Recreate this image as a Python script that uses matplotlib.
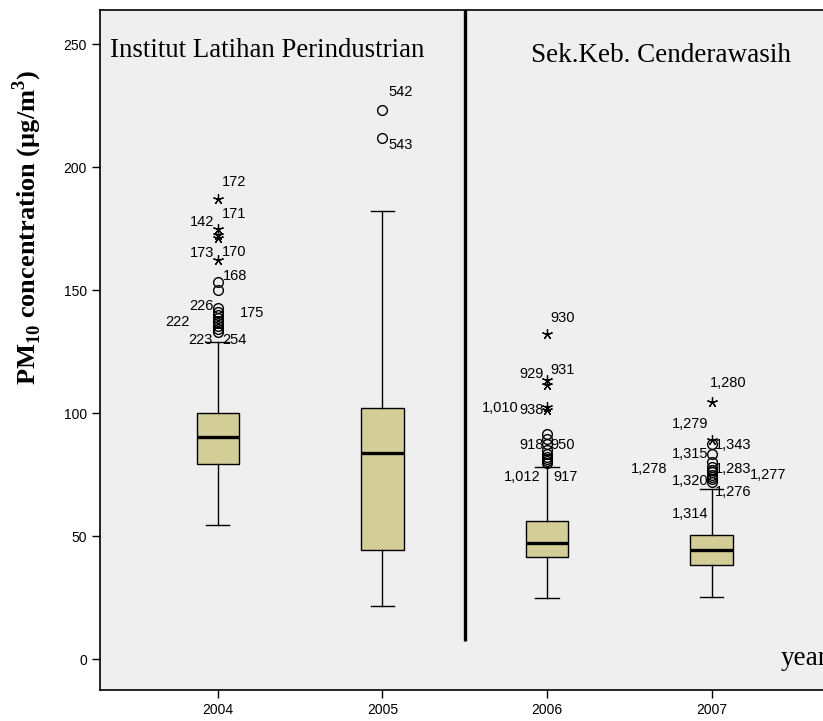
import matplotlib.pyplot as plt

plt.rcParams['mathtext.fontset'] = 'custom'
plt.rcParams['mathtext.rm'] = 'Liberation Serif'
plt.rcParams['mathtext.bf'] = 'Liberation Serif:bold'

# PM10 box summaries per year
years = ['2004', '2005', '2006', '2007']
whis_low = [54.5, 21.5, 24.8, 25.2]
q1 = [79.3, 44.3, 41.5, 38.2]
median = [90.2, 83.7, 47.2, 44.3]
q3 = [100.0, 102.0, 56.1, 50.4]
whis_high = [129.0, 182.0, 78.2, 69.1]

# outliers (circles) and extremes (stars) per year
outliers = [
    [153.4, 150.0, 142.5, 141.0, 139.8, 138.6, 137.5, 136.4, 135.2, 134.0, 133.0],
    [223.0, 212.0],
    [91.5, 89.5, 87.5, 85.0, 83.5, 82.3, 81.3, 80.4, 79.6],
    [87.4, 83.2, 80.0, 78.2, 77.0, 76.0, 75.0, 74.0, 73.0, 72.0],
]
extremes = [
    [187.2, 175.0, 172.3, 171.2, 162.2],
    [],
    [132.0, 113.4, 111.4, 102.6, 101.2],
    [104.6, 89.0],
]

# case numbers shown next to outlying points: (year index, value, label)
case_labels = [
    (0, 187.2, '172'), (0, 175.0, '171'), (0, 172.3, '142'),
    (0, 162.2, '173'), (0, 162.2, '170'), (0, 153.4, '168'),
    (0, 142.5, '226'), (0, 138.6, '175'), (0, 135.2, '222'),
    (0, 133.0, '223'), (0, 133.0, '254'),
    (1, 223.0, '542'), (1, 212.0, '543'),
    (2, 132.0, '930'), (2, 113.4, '929'), (2, 113.4, '931'),
    (2, 101.2, '1,010'), (2, 101.2, '938'), (2, 87.5, '918'),
    (2, 87.5, '950'), (2, 79.6, '1,012'), (2, 79.6, '917'),
    (3, 104.6, '1,280'), (3, 89.0, '1,279'), (3, 87.4, '1,343'),
    (3, 83.2, '1,315'), (3, 76.0, '1,278'), (3, 74.0, '1,320'),
    (3, 78.2, '1,283'), (3, 76.0, '1,277'), (3, 72.0, '1,276'),
    (3, 72.0, '1,314'),
]
# label placement in pixels relative to the point: (dx, dy, ha)
label_offsets = [
    (4, 17, 'left'), (4, 15, 'left'), (-4, 13, 'right'),
    (-4, 7, 'right'), (4, 8, 'left'), (5, 6, 'left'),
    (-4, 2, 'right'), (22, 5, 'left'), (-28, 4, 'right'),
    (-5, -8, 'right'), (4, -8, 'left'),
    (6, 18, 'left'), (6, -7, 'left'),
    (3, 16, 'left'), (-3, 6, 'right'), (3, 10, 'left'),
    (-28, 2, 'right'), (-3, 0, 'right'), (-3, -1, 'right'),
    (3, -1, 'left'), (-7, -14, 'right'), (6, -14, 'left'),
    (-2, 19, 'left'), (-3, 16, 'right'), (3, -1, 'left'),
    (-3, 0, 'right'), (-44, 3, 'right'), (-3, -4, 'right'),
    (3, -2, 'left'), (38, -3, 'left'), (3, -10, 'left'),
    (-3, -32, 'right'),
]

fig = plt.figure(figsize=(8.23, 7.21), dpi=100)
ax = fig.add_axes([0.1215, 0.043, 0.893, 0.943])
ax.set_facecolor('#efefef')

stats = []
for i in range(len(years)):
    stats.append({'whislo': whis_low[i], 'q1': q1[i], 'med': median[i],
                  'q3': q3[i], 'whishi': whis_high[i], 'fliers': []})
ax.bxp(stats, positions=range(len(years)), widths=0.26, capwidths=0.14,
       showfliers=False, patch_artist=True,
       boxprops=dict(facecolor='#d3ce97', edgecolor='black', linewidth=1),
       medianprops=dict(color='black', linewidth=2.4),
       whiskerprops=dict(color='black', linewidth=1),
       capprops=dict(color='black', linewidth=1))

for i in range(len(years)):
    ax.plot([i] * len(outliers[i]), outliers[i], 'o', ms=7, mfc='none',
            mec='black', mew=1)
    ax.plot([i] * len(extremes[i]), extremes[i], marker=(5, 2, 0), ls='none',
            ms=7.5, color='black', mew=0.9)

for (i, v, txt), (dx, dy, ha) in zip(case_labels, label_offsets):
    ax.annotate(txt, (i, v), xytext=(dx, dy), textcoords='offset pixels',
                ha=ha, va='center', fontsize=10.5, family='Liberation Sans')

# separator between the two monitoring stations
ax.vlines(1.5, 7.5, 270, color='black', linewidth=2.4)

ax.text(-0.657, 247.5, 'Institut Latihan Perindustrian', family='Liberation Serif',
        fontsize=19.3, va='center', ha='left')
ax.text(1.903, 245.5, 'Sek.Keb. Cenderawasih', family='Liberation Serif',
        fontsize=19.5, va='center', ha='left')
ax.text(3.42, 0.4, 'year', family='Liberation Serif', fontsize=19.5,
        va='center', ha='left')

ax.set_xlim(-0.717, 3.75)
ax.set_ylim(-12.6, 263.8)
ax.set_xticks(range(len(years)))
ax.set_xticklabels(years, family='Liberation Sans', fontsize=10)
ax.set_yticks([0, 50, 100, 150, 200, 250])
ax.set_yticklabels(['0', '50', '100', '150', '200', '250'],
                   family='Liberation Sans', fontsize=10)
ax.tick_params(axis='both', direction='out', length=6, width=1)
ax.spines['right'].set_visible(False)
for s in ['left', 'bottom', 'top']:
    ax.spines[s].set_linewidth(1.2)

ax.set_ylabel(r'PM$_{\mathbf{10}}$ concentration (µg/m$^{\mathbf{3}}$)',
              family='Liberation Serif', fontweight='bold', fontsize=19)
ax.yaxis.set_label_coords(-0.076, 0.681)

fig.savefig('out.png', dpi=100)
